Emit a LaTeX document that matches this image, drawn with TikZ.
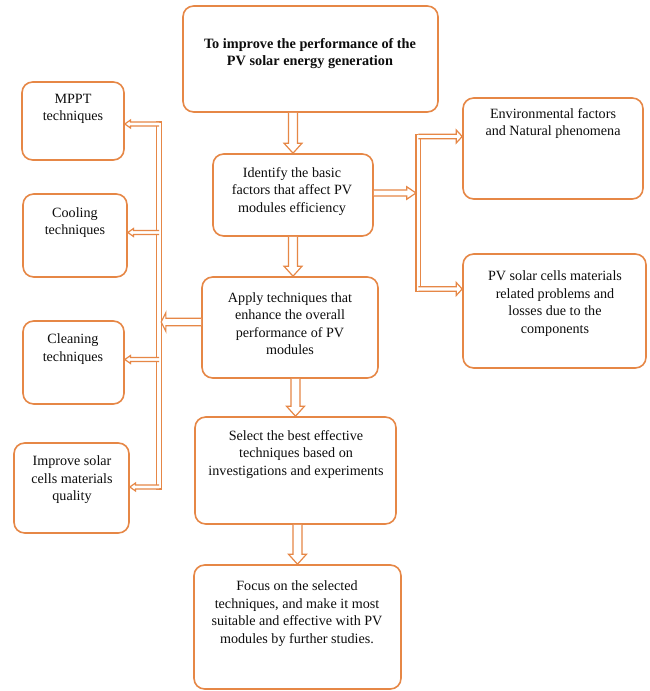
\documentclass[tikz,border=0pt]{standalone}
\usepackage{fontspec}
\setmainfont{Liberation Serif}
\usetikzlibrary{calc,fit}
\definecolor{boxor}{RGB}{230,135,70}
\tikzset{
  box/.style={draw=boxor, line width=1.2pt, rounded corners=8pt, inner sep=0pt, fill=white},
  txt/.style={align=center, inner sep=0pt, font=\fontsize{10.6}{13.1}\selectfont, text=black!95},
  arrline/.style={draw=boxor, line width=0.9pt, line join=miter},
}
\newcommand\harrow[5]{%
  \fill[white] let \p1=(#1), \p2=(#2), \n1={atan2(\y2-\y1,\x2-\x1)}, \n2={veclen(\x2-\x1,\y2-\y1)} in
    [shift={(\x1,\y1)}, rotate=\n1] (0pt,-#3) -- ({\n2*1-#5},-#3) -- ({\n2*1-#5},-#4) -- ({\n2*1},0pt) -- ({\n2*1-#5},#4) -- ({\n2*1-#5},#3) -- (0pt,#3) -- cycle;
  \draw[arrline] let \p1=(#1), \p2=(#2), \n1={atan2(\y2-\y1,\x2-\x1)}, \n2={veclen(\x2-\x1,\y2-\y1)} in
    [shift={(\x1,\y1)}, rotate=\n1] (0pt,-#3) -- ({\n2*1-#5},-#3) -- ({\n2*1-#5},-#4) -- ({\n2*1},0pt) -- ({\n2*1-#5},#4) -- ({\n2*1-#5},#3) -- (0pt,#3);
}
\begin{document}
\begin{tikzpicture}[x=0.75pt, y=-0.75pt]
\useasboundingbox[fill=white] (0,0) rectangle (649,691);

% boxes
\node[box, fit={(183,6) (438,112)}] (top) {};
\node[box, fit={(213,154) (373,236)}] (id) {};
\node[box, fit={(202,277) (378,378)}] (ap) {};
\node[box, fit={(195,417) (396,524)}] (sel) {};
\node[box, fit={(194,565) (401,689)}] (foc) {};
\node[box, fit={(463,98) (643,199)}] (env) {};
\node[box, fit={(463,254) (646,368)}] (pv) {};
\node[box, fit={(22,82) (124,160)}] (mp) {};
\node[box, fit={(23,194) (127,277)}] (co) {};
\node[box, fit={(23,321) (124,404)}] (cl) {};
\node[box, fit={(14,443) (129,533)}] (im) {};

% texts
\node[txt, font=\fontsize{10.7}{13.1}\selectfont\bfseries] (topT) at (310,53.5) {To improve the performance of the\\PV solar energy generation};
\node[txt] (idT) at (292,191.5) {Identify the basic\\factors that affect PV\\modules efficiency};
\node[txt] (apT) at (290,323.5) {Apply techniques that\\enhance the overall\\performance of PV\\modules};
\node[txt] (selT) at (296,454.5) {Select the best effective\\techniques based on\\investigations and experiments};
\node[txt] (focT) at (297,613.5) {Focus on the selected\\techniques, and make it most\\suitable and effective with PV\\modules by further studies.};
\node[txt] (envT) at (553,123.5) {Environmental factors\\and Natural phenomena};
\node[txt] (pvT) at (555,303.5) {PV solar cells materials\\related problems and\\losses due to the\\components};
\node[txt] (mpT) at (73,109) {MPPT\\techniques};
\node[txt] (coT) at (75,222.5) {Cooling\\techniques};
\node[txt] (clT) at (73,349) {Cleaning\\techniques};
\node[txt] (imT) at (72,480) {Improve solar\\cells materials\\quality};

% trunk points
\coordinate (L1) at (159,124);
\coordinate (L2) at (159,232.5);
\coordinate (L3) at (159,359.5);
\coordinate (L4) at (159,487);
\coordinate (LA) at (161.2,322);
\coordinate (R1) at (418.3,136.5);
\coordinate (R2) at (418.3,289);
\coordinate (RA) at (416,193);

% trunks
\draw[arrline, fill=white] ($(L1)+(-2.2,-2)$) rectangle ($(L4)+(2.2,2)$);
\draw[arrline, fill=white] ($(R1)+(-2.3,-2.3)$) rectangle ($(R2)+(2.3,2.3)$);

% main arrows
\harrow{top.south -| id.north}{id.north}{3.4pt}{6.75pt}{7.5pt}
\harrow{id.south}{id.south |- ap.north}{3.4pt}{6.75pt}{7.5pt}
\harrow{ap.south -| sel.north}{sel.north}{3.4pt}{6.75pt}{7.5pt}
\harrow{sel.south -| foc.north}{foc.north}{3.4pt}{6.75pt}{7.5pt}

% into trunks
\harrow{ap.west |- LA}{LA}{2.85pt}{7pt}{3.5pt}
\harrow{id.east |- RA}{RA}{2.25pt}{4.7pt}{7pt}

% branches
\harrow{L1}{mp.east |- L1}{1.5pt}{3pt}{4.3pt}
\harrow{L2}{co.east |- L2}{1.5pt}{3pt}{4.3pt}
\harrow{L3}{cl.east |- L3}{1.5pt}{3pt}{4.3pt}
\harrow{L4}{im.east |- L4}{1.5pt}{3pt}{4.3pt}
\harrow{R1}{env.west |- R1}{1.7pt}{4.9pt}{4.5pt}
\harrow{R2}{pv.west |- R2}{1.7pt}{4.9pt}{4.5pt}
\end{tikzpicture}
\end{document}
